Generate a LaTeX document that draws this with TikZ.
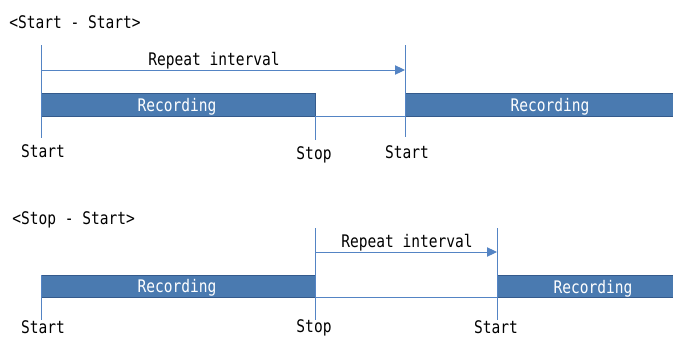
\documentclass[tikz,border=0pt]{standalone}
\usepackage{fontspec}
\setmainfont{DejaVu Sans Mono}[FakeStretch=0.84]
\usetikzlibrary{arrows.meta,fit}
\definecolor{barfill}{RGB}{74,122,176}
\definecolor{bardraw}{RGB}{52,90,140}
\definecolor{lnc}{RGB}{84,132,196}
\begin{document}
\begin{tikzpicture}[x=0.75pt,y=-0.75pt,
  font=\fontsize{13}{15}\selectfont,
  bar/.style={draw=bardraw, fill=barfill, inner sep=0pt, line width=0.75pt},
  rec/.style={anchor=base, inner sep=0pt, text=white},
  lbl/.style={anchor=base, inner sep=0pt, text=black},
  ttl/.style={anchor=base west, inner sep=0pt, text=black},
  ln/.style={draw=lnc, line width=0.75pt},
  arr/.style={ln, -{Triangle[length=7.5pt,width=7pt]}}]
\useasboundingbox (0,0) rectangle (673,336);

% ---------- top: Start - Start ----------
\node[ttl] (t1) at (9,28.5) {<Start - Start>};
\node[bar, fit={(41,93)(315,116)}] (b1) {};
\node[bar, fit={(405,93)(675,116)}] (b2) {};
\node[rec] (r1) at (177,111.7) {Recording};
\node[rec] (r2) at (550,111.7) {Recording};

\coordinate (s1t) at (41,45);  \coordinate (s1b) at (41,138);
\coordinate (a1s) at (41,70);  \coordinate (a1e) at (405,70);
\coordinate (p1t) at (315,116); \coordinate (p1b) at (315,140);
\coordinate (q1t) at (405,45); \coordinate (q1b) at (405,137);
\coordinate (g1e) at (405,116);

\draw[ln] (s1t) -- (s1b);
\draw[ln] (q1t) -- (q1b);
\draw[ln] (p1t) -- (p1b);
\draw[ln] (p1t) -- (g1e);
\draw[arr] (a1s) -- (a1e);
\node[lbl] (i1) at (214,65) {Repeat interval};

\node[lbl] (l1) at (43,157) {Start};
\node[lbl] (l2) at (314,159) {Stop};
\node[lbl] (l3) at (407,158) {Start};

% ---------- bottom: Stop - Start ----------
\node[ttl] (t2) at (12,224.5) {<Stop - Start>};
\node[bar, fit={(41,275)(315,297)}] (b3) {};
\node[bar, fit={(497,275)(675,297)}] (b4) {};
\node[rec] (r3) at (177,292.7) {Recording};
\node[rec] (r4) at (593,293) {Recording};

\coordinate (s2t) at (41,275);  \coordinate (s2b) at (41,320);
\coordinate (p2t) at (315,228); \coordinate (p2b) at (315,320);
\coordinate (q2t) at (497,228); \coordinate (q2b) at (497,320);
\coordinate (a2s) at (315,252); \coordinate (a2e) at (497,252);
\coordinate (g2s) at (315,297); \coordinate (g2e) at (497,297);

\draw[ln] (s2t) -- (s2b);
\draw[ln] (p2t) -- (p2b);
\draw[ln] (q2t) -- (q2b);
\draw[ln] (g2s) -- (g2e);
\draw[arr] (a2s) -- (a2e);
\node[lbl] (i2) at (407,247.5) {Repeat interval};

\node[lbl] (l4) at (43,333.5) {Start};
\node[lbl] (l5) at (314,332.5) {Stop};
\node[lbl] (l6) at (496,333.5) {Start};
\end{tikzpicture}
\end{document}
